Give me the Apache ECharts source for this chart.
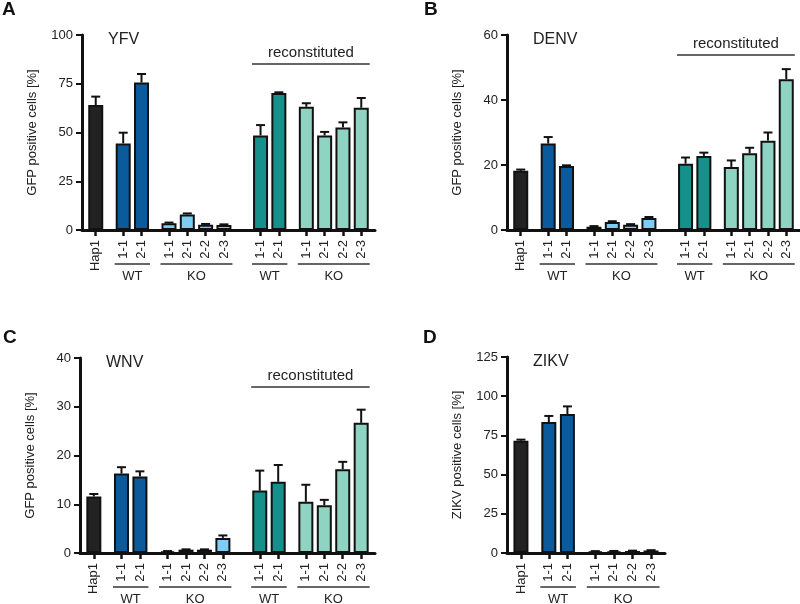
<!DOCTYPE html>
<html><head><meta charset="utf-8">
<script src="https://cdn.jsdelivr.net/npm/echarts@6/dist/echarts.min.js"></script>
<style>html,body{margin:0;padding:0;background:#fff}#c{width:800px;height:604px}</style>
</head><body><div id="c"></div>
<script>
// ---------- data ----------
const barLabels = ['Hap1','1-1','2-1','1-1','2-1','2-2','2-3','1-1','2-1','1-1','2-1','2-2','2-3'];
const groupNames = ['', 'WT', 'KO', 'WT', 'KO'];
const groupSizes = [1, 2, 4, 2, 4];
const reconstitutedGroups = [3, 4];

const yfvMean  = [64.1, 44.4, 75.6, 3.4, 8.0, 2.7, 2.6, 48.5, 70.3, 63.2, 48.5, 52.6, 62.7];
const yfvSD    = [4.3, 5.5, 4.4, 0.4, 0.5, 0.4, 0.3, 5.3, 0.3, 1.8, 1.8, 2.6, 5.0];
const denvMean = [18.2, 26.6, 19.7, 1.0, 2.5, 1.6, 3.7, 20.4, 22.8, 19.4, 23.6, 27.5, 46.4];
const denvSD   = [0.4, 2.0, 0.2, 0.2, 0.2, 0.2, 0.3, 1.9, 1.0, 2.0, 1.7, 2.5, 3.1];
const wnvMean  = [11.6, 16.3, 15.7, 0.34, 0.68, 0.68, 3.1, 12.8, 14.6, 10.5, 9.8, 17.2, 26.7];
const wnvSD    = [0.5, 1.3, 1.05, 0.06, 0.07, 0.07, 0.5, 4.1, 3.45, 3.5, 1.1, 1.5, 2.7];
const zikvMean = [71.6, 83.5, 88.6, 1.0, 1.1, 1.3, 1.6];
const zikvSD   = [0.7, 3.9, 4.9, 0.2, 0.2, 0.2, 0.2];

const yfvTicks  = [0, 100, 25];
const denvTicks = [0, 60, 20];
const wnvTicks  = [0, 40, 10];
const zikvTicks = [0, 125, 25];

// ---------- styling / layout ----------
const FONT = "'Liberation Sans', Arial, Helvetica, sans-serif";
const TXT = '#222';
const groupColors = ['#222222', '#0b5a9b', '#7fcdf4', '#16908a', '#8fd4c2'];
const groupGaps = [3, 3, 4, 3]; // half-pitch slots between group neighbours

const panels = [
  {letter:'A', title:'YFV',  mean:yfvMean,  sd:yfvSD,  nGroups:5, ticks:yfvTicks,  yName:'GFP positive cells [%]',
   grid:{left:82, top:35, width:293, height:195}, reconOff:29, letterPos:[2,0]},
  {letter:'B', title:'DENV', mean:denvMean, sd:denvSD, nGroups:5, ticks:denvTicks, yName:'GFP positive cells [%]',
   grid:{left:507, top:35, width:300, height:195}, reconOff:20, letterPos:[424,0]},
  {letter:'C', title:'WNV',  mean:wnvMean,  sd:wnvSD,  nGroups:5, ticks:wnvTicks,  yName:'GFP positive cells [%]',
   grid:{left:80, top:358, width:295, height:195}, reconOff:29, letterPos:[3,328]},
  {letter:'D', title:'ZIKV', mean:zikvMean, sd:zikvSD, nGroups:3, ticks:zikvTicks, yName:'ZIKV positive cells [%]',
   grid:{left:507, top:357, width:158, height:196}, reconOff:0, letterPos:[423,328]}
];

function buildLayout(nGroups) {
  let pos = 1, first = true;
  const slot = [], grp = [];
  for (let g = 0; g < nGroups; g++) {
    for (let k = 0; k < groupSizes[g]; k++) {
      if (!first) pos += (k === 0 ? groupGaps[g - 1] : 2);
      first = false;
      slot.push(pos); grp.push(g);
    }
  }
  const total = pos + 2;
  const cats = new Array(total).fill('');
  slot.forEach((s, i) => { cats[s] = barLabels[i]; });
  return {slot, grp, cats};
}

const chart = echarts.init(document.getElementById('c'), null, {renderer:'canvas'});
const grids = [], xAxes = [], yAxes = [], series = [];
const layouts = [];

panels.forEach((p, pi) => {
  const L = buildLayout(p.nGroups);
  layouts.push(L);
  grids.push(Object.assign({containLabel:false}, p.grid));
  xAxes.push({
    type:'category', gridIndex:pi, data:L.cats, boundaryGap:true,
    axisLine:{show:true, lineStyle:{color:'#111', width:3}},
    axisTick:{show:true, alignWithLabel:true, length:6, lineStyle:{color:'#111', width:2.5},
              interval:(idx, val) => val !== ''},
    axisLabel:{interval:0, rotate:90, margin:10, fontSize:13, color:TXT, fontFamily:FONT},
    splitLine:{show:false}
  });
  yAxes.push({
    type:'value', gridIndex:pi, min:p.ticks[0], max:p.ticks[1], interval:p.ticks[2],
    name:p.yName, nameLocation:'middle', nameGap:43,
    nameTextStyle:{fontSize:13, color:TXT, fontFamily:FONT},
    axisLine:{show:true, lineStyle:{color:'#111', width:3}},
    axisTick:{show:true, length:6, lineStyle:{color:'#111', width:2}},
    axisLabel:{fontSize:13, color:TXT, fontFamily:FONT, margin:9},
    splitLine:{show:false}
  });
  const barData = new Array(L.cats.length).fill('-');
  L.slot.forEach((s, i) => {
    barData[s] = {value:p.mean[i], itemStyle:{color:groupColors[L.grp[i]]}};
  });
  series.push({
    type:'bar', xAxisIndex:pi, yAxisIndex:pi, data:barData, barWidth:15,
    itemStyle:{borderColor:'#111', borderWidth:2}, silent:true, animation:false
  });
  const errData = L.slot.map((s, i) => [s, p.mean[i], p.mean[i] + p.sd[i]]);
  series.push({
    type:'custom', xAxisIndex:pi, yAxisIndex:pi, data:errData, animation:false, silent:true, z:3,
    encode:{x:0, y:[1,2]},
    renderItem:(params, api) => {
      const base = api.coord([api.value(0), api.value(1)]);
      const top = api.coord([api.value(0), api.value(2)]);
      const st = {stroke:'#111', lineWidth:2};
      return {type:'group', children:[
        {type:'line', shape:{x1:base[0], y1:base[1], x2:top[0], y2:top[1]}, style:st},
        {type:'line', shape:{x1:top[0]-4.5, y1:top[1], x2:top[0]+4.5, y2:top[1]}, style:st}
      ]};
    }
  });
});

chart.setOption({
  animation:false,
  backgroundColor:'#fff',
  textStyle:{fontFamily:FONT},
  grid:grids, xAxis:xAxes, yAxis:yAxes, series:series
});

// annotations: group lines, labels, titles, panel letters
const graphics = [];
panels.forEach((p, pi) => {
  const L = layouts[pi];
  const axisY = chart.convertToPixel({yAxisIndex:pi}, 0);
  const xOf = s => chart.convertToPixel({xAxisIndex:pi}, s);
  const half = 8.5;
  graphics.push({type:'text', left:p.letterPos[0], top:p.letterPos[1],
    style:{text:p.letter, font:`bold 19px ${FONT}`, fill:'#111'}});
  graphics.push({type:'text', x:p.grid.left + 26, y:p.grid.top - 3,
    style:{text:p.title, font:`16px ${FONT}`, fill:TXT, textVerticalAlign:'top'}});
  for (let g = 1; g < p.nGroups; g++) {
    const idx = L.grp.map((v, i) => v === g ? i : -1).filter(i => i >= 0);
    const x1 = xOf(L.slot[idx[0]]) - half, x2 = xOf(L.slot[idx[idx.length-1]]) + half;
    graphics.push({type:'line', shape:{x1, y1:axisY+34, x2, y2:axisY+34}, style:{stroke:'#333', lineWidth:1.5}});
    graphics.push({type:'text', x:(x1+x2)/2, y:axisY+40,
      style:{text:groupNames[g], font:`13px ${FONT}`, fill:TXT, textAlign:'center', textVerticalAlign:'top'}});
  }
  if (p.nGroups > 3) {
    const idx = L.grp.map((v, i) => reconstitutedGroups.includes(v) ? i : -1).filter(i => i >= 0);
    const x1 = xOf(L.slot[idx[0]]) - half, x2 = xOf(L.slot[idx[idx.length-1]]) + half;
    const ly = p.grid.top + p.reconOff;
    graphics.push({type:'line', shape:{x1, y1:ly, x2, y2:ly}, style:{stroke:'#333', lineWidth:1.5}});
    graphics.push({type:'text', x:(x1+x2)/2, y:ly-4,
      style:{text:'reconstituted', font:`15px ${FONT}`, fill:TXT, textAlign:'center', textVerticalAlign:'bottom'}});
  }
});
chart.setOption({graphic:graphics});
</script>
</body></html>
